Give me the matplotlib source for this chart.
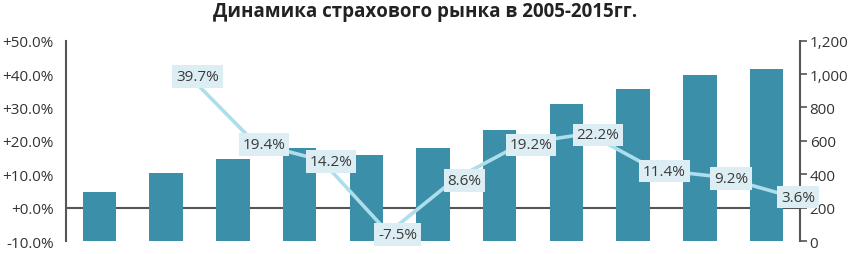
import matplotlib
matplotlib.use('Agg')
import matplotlib.pyplot as plt
import matplotlib.transforms as mtransforms
import numpy as np

plt.rcParams['font.family'] = ['Open Sans', 'DejaVu Sans']

# данные
years = ['2005', '2006', '2007', '2008', '2009', '2010', '2011', '2012', '2013', '2014', '2015']
premii = [293, 410, 492, 556, 515, 560, 667, 820, 913, 995, 1030]
prirost = [39.7, 19.4, 14.2, -7.5, 8.6, 19.2, 22.2, 11.4, 9.2, 3.6]
pravye_tiki = [0, 200, 400, 600, 800, 1000, 1200]
levye_tiki = [-10, 0, 10, 20, 30, 40, 50]

fig = plt.figure(figsize=(8.51, 2.55), dpi=100)
ax = fig.add_axes([0.0776, 0.05, 0.8624, 0.787])
ax2 = ax.twinx()

x = np.arange(len(years))

# столбцы (правая шкала)
ax.bar(x, premii, width=0.5, color='#3b8fa9', zorder=2)
ax.set_ylim(0, 1200)
ax.set_xlim(-0.5, len(years) - 0.5)
ax.set_yticks(pravye_tiki)
ax.set_yticklabels(['{:,}'.format(v) for v in pravye_tiki])
ax.yaxis.tick_right()
ax.set_xticks([])

# линия прироста (левая шкала)
ax2.set_ylim(-10, 50)
ax2.set_yticks(levye_tiki)
ax2.set_yticklabels(['{:+.1f}%'.format(v) for v in levye_tiki])
ax2.yaxis.tick_left()
ax2.set_xlim(ax.get_xlim())

# нулевая линия под столбцами
tr = mtransforms.blended_transform_factory(ax.transAxes, ax2.transData)
ax.plot([0, 1], [0, 0], color='#555555', lw=1.5, transform=tr, zorder=1)

xl = x[1:] + 0.33
ax2.plot(xl, prirost, color='#addeeb', lw=2.6, zorder=3)
for xi, v in zip(xl, prirost):
    ax2.text(xi + 0.14, v - 0.4, '{:.1f}%'.format(v), ha='center', va='center',
             fontsize=11, color='#3a3a3a', zorder=4,
             bbox=dict(boxstyle='square,pad=0.25', fc='#dcedf3', ec='none'))

for a in (ax, ax2):
    for s in a.spines.values():
        s.set_visible(False)
ax2.spines['left'].set_visible(True)
ax2.spines['left'].set_color('#555555')
ax2.spines['left'].set_linewidth(1.5)
ax.spines['right'].set_visible(True)
ax.spines['right'].set_color('#555555')
ax.spines['right'].set_linewidth(1.5)

ax2.tick_params(axis='y', length=0, pad=9, labelsize=11, labelcolor='#333333')
ax.tick_params(axis='y', length=5, width=1.2, color='#555555', direction='out',
               pad=2, labelsize=11, labelcolor='#333333')

fig.text(0.5, 0.952, 'Динамика страхового рынка в 2005-2015гг.', ha='center', va='center',
         fontsize=13.5, fontweight='bold', color='#222222')

fig.savefig('out.png', dpi=100)
